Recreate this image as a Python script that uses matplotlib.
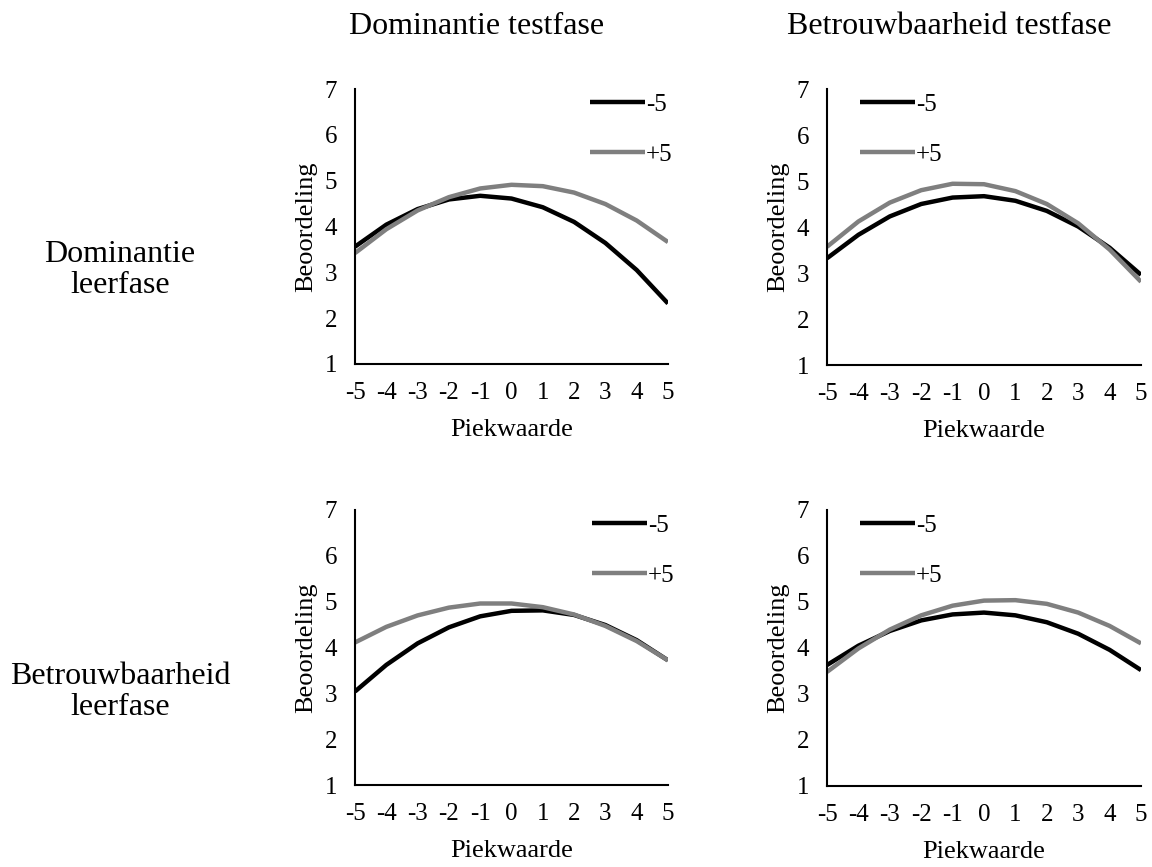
import matplotlib
matplotlib.use("Agg")
import matplotlib.pyplot as plt

plt.rcParams["font.family"] = ["Liberation Serif", "DejaVu Serif"]

# piekwaarde (x) en beoordelingen per paneel
piek = [-5, -4, -3, -2, -1, 0, 1, 2, 3, 4, 5]

# rij: leerfase, kolom: testfase
dom_dom_min5 = [3.56, 4.04, 4.38, 4.59, 4.67, 4.61, 4.42, 4.10, 3.64, 3.05, 2.32]
dom_dom_plus5 = [3.42, 3.94, 4.35, 4.64, 4.83, 4.91, 4.88, 4.74, 4.49, 4.13, 3.66]

dom_betr_min5 = [3.32, 3.83, 4.23, 4.50, 4.64, 4.67, 4.57, 4.35, 4.01, 3.55, 2.96]
dom_betr_plus5 = [3.57, 4.12, 4.53, 4.80, 4.94, 4.93, 4.78, 4.50, 4.08, 3.51, 2.81]

betr_dom_min5 = [3.04, 3.62, 4.09, 4.44, 4.68, 4.80, 4.81, 4.71, 4.49, 4.16, 3.72]
betr_dom_plus5 = [4.11, 4.45, 4.70, 4.87, 4.96, 4.96, 4.88, 4.72, 4.47, 4.14, 3.72]

betr_betr_min5 = [3.63, 4.05, 4.37, 4.60, 4.73, 4.77, 4.71, 4.56, 4.31, 3.96, 3.52]
betr_betr_plus5 = [3.48, 3.99, 4.40, 4.71, 4.92, 5.03, 5.04, 4.96, 4.77, 4.48, 4.10]

reeksen = ["-5", "+5"]
kolom_titels = ["Dominantie testfase", "Betrouwbaarheid testfase"]
rij_titels = ["Dominantie\nleerfase", "Betrouwbaarheid\nleerfase"]

W, H = 1152, 867
fig = plt.figure(figsize=(W / 100, H / 100), dpi=100)

# (links, onder, breedte, hoogte) in pixels
rects = [(355, 364, 313, 275), (827, 365, 314, 276),
         (355, 785, 313, 275), (827, 786, 314, 276)]
panelen = [(dom_dom_min5, dom_dom_plus5), (dom_betr_min5, dom_betr_plus5),
           (betr_dom_min5, betr_dom_plus5), (betr_betr_min5, betr_betr_plus5)]
legend_x = [0.75, 0.105, 0.757, 0.105]

for i in range(4):
    l, b, w, h = rects[i]
    ax = fig.add_axes([l / W, (H - b) / H, w / W, h / H])
    zwart, grijs = panelen[i]
    ax.plot(piek, zwart, color="black", lw=3.2, label=reeksen[0],
            solid_capstyle="butt", solid_joinstyle="round")
    ax.plot(piek, grijs, color="#7f7f7f", lw=3.2, label=reeksen[1],
            solid_capstyle="butt", solid_joinstyle="round")
    ax.set_xlim(-5, 5)
    ax.set_ylim(1, 7)
    ax.set_xticks(piek)
    ax.set_xticklabels([str(v) for v in piek])
    ax.set_yticks(range(1, 8))
    ax.tick_params(length=0, pad=13, labelsize=18)
    for s in ["top", "right"]:
        ax.spines[s].set_visible(False)
    for s in ["left", "bottom"]:
        ax.spines[s].set_linewidth(1.5)
    ax.set_xlabel("Piekwaarde", fontsize=19, labelpad=11)
    ax.set_ylabel("Beoordeling", fontsize=19, labelpad=5)
    ax.legend(loc="upper left", bbox_to_anchor=(legend_x[i], 0.985),
              frameon=False, fontsize=18, handlelength=2.2,
              handletextpad=0.05, labelspacing=1.1, borderpad=0,
              borderaxespad=0)

fig.text(477 / W, (H - 34) / H, kolom_titels[0], fontsize=23,
         ha="center", va="baseline")
fig.text(949 / W, (H - 34) / H, kolom_titels[1], fontsize=23,
         ha="center", va="baseline")
fig.text(120 / W, (H - 270) / H, rij_titels[0], fontsize=23,
         ha="center", va="center", multialignment="center", linespacing=1.1)
fig.text(120 / W, (H - 692) / H, rij_titels[1], fontsize=23,
         ha="center", va="center", multialignment="center", linespacing=1.1)

fig.savefig("out.png", dpi=100)
